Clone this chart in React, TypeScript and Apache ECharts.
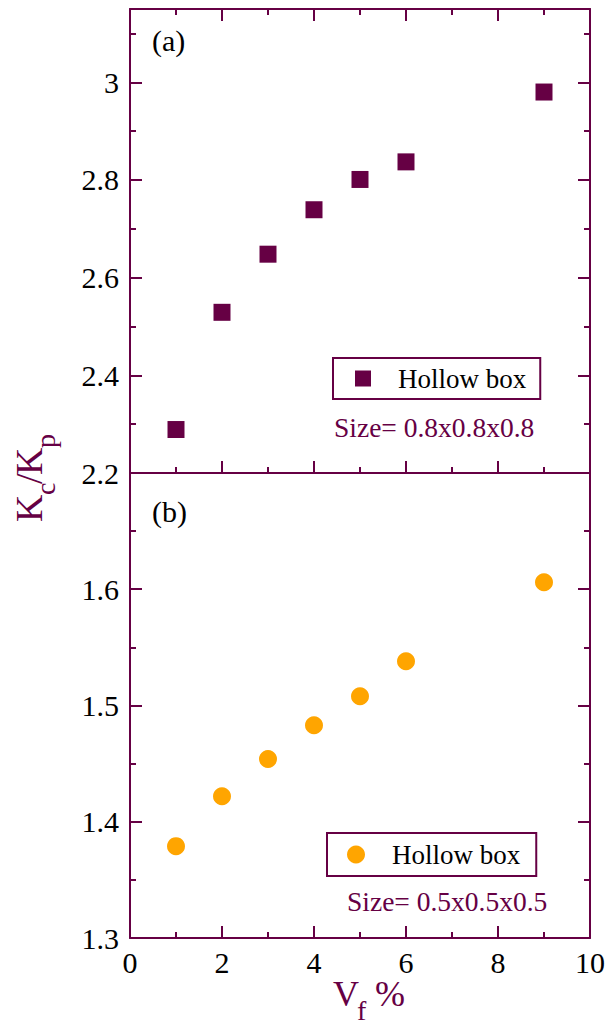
import React, { useEffect, useRef } from 'react';
import * as echarts from 'echarts';

// ---- data ----
const vfA = [1, 2, 3, 4, 5, 6, 9];
const ratioA = [2.289, 2.529, 2.648, 2.739, 2.801, 2.837, 2.98];
const vfB = [1, 2, 3, 4, 5, 6, 9];
const ratioB = [1.379, 1.422, 1.454, 1.483, 1.508, 1.538, 1.606];
const seriesNames = ['Hollow box (a)', 'Hollow box (b)'];
const legendLabel = 'Hollow box';
const sizeLabels = ['Size= 0.8x0.8x0.8', 'Size= 0.5x0.5x0.5'];
const panelLabels = ['(a)', '(b)'];

const PURPLE = '#660044';
const ORANGE = '#ffa500';
const FONT = "'Liberation Serif', 'Times New Roman', serif";

function xAx(gridIndex: number, position: string, showLabel: boolean, showTicks: boolean) {
  return {
    type: 'value',
    gridIndex,
    position,
    min: 0,
    max: 10,
    interval: 2,
    axisLine: { show: true, onZero: false, lineStyle: { color: PURPLE, width: 2 } },
    axisTick: { show: showTicks, inside: true, length: 12, lineStyle: { color: PURPLE, width: 2 } },
    minorTick: { show: showTicks, splitNumber: 2, length: 6, lineStyle: { color: PURPLE, width: 2 } },
    axisLabel: { show: showLabel, margin: 9, color: '#000', fontSize: 30, fontFamily: FONT },
    splitLine: { show: false },
    minorSplitLine: { show: false },
  };
}

function yAx(gridIndex: number, position: string, min: number, max: number, interval: number, showLabel: boolean, hideAbove: number) {
  return {
    type: 'value',
    gridIndex,
    position,
    min,
    max,
    interval,
    axisLine: { show: true, onZero: false, lineStyle: { color: PURPLE, width: 2 } },
    axisTick: { show: true, inside: true, length: 12, lineStyle: { color: PURPLE, width: 2 } },
    minorTick: { show: true, splitNumber: 2, length: 6, lineStyle: { color: PURPLE, width: 2 } },
    axisLabel: {
      show: showLabel,
      margin: 11,
      color: '#000',
      fontSize: 30,
      fontFamily: FONT,
      formatter: (v: number) => (v > hideAbove ? '' : String(Math.round(v * 10) / 10)),
    },
    splitLine: { show: false },
    minorSplitLine: { show: false },
  };
}

export default function App() {
  const ref = useRef<HTMLDivElement>(null);
  useEffect(() => {
    if (!ref.current) return;
    const chart = echarts.init(ref.current, null, { renderer: 'svg' });
    const mainFont = (s: number) => `${s}px ${FONT}`;
    chart.setOption({
      animation: false,
      backgroundColor: '#fff',
      grid: [
        { left: 130, top: 9, width: 460, height: 464, outerBoundsMode: 'none' },
        { left: 130, top: 473, width: 460, height: 465, outerBoundsMode: 'none' },
      ],
      xAxis: [
        xAx(0, 'bottom', false, true),
        xAx(0, 'top', false, true),
        xAx(1, 'bottom', true, true),
        xAx(1, 'top', false, false),
      ],
      yAxis: [
        yAx(0, 'left', 2.2, 3.15, 0.2, true, 3.05),
        yAx(0, 'right', 2.2, 3.15, 0.2, false, 3.05),
        yAx(1, 'left', 1.3, 1.7, 0.1, true, 1.65),
        yAx(1, 'right', 1.3, 1.7, 0.1, false, 1.65),
      ],
      legend: [
        {
          data: [seriesNames[0]],
          left: 333,
          top: 358,
          icon: 'rect',
          itemWidth: 16,
          itemHeight: 16,
          padding: [7, 14, 7, 22],
          borderColor: PURPLE,
          borderWidth: 2,
          borderRadius: 0,
          selectedMode: false,
          formatter: () => legendLabel,
          textStyle: { fontSize: 27, fontFamily: FONT, color: '#000', padding: [0, 0, 0, 22] },
        },
        {
          data: [seriesNames[1]],
          left: 327,
          top: 833,
          icon: 'circle',
          itemWidth: 18,
          itemHeight: 18,
          padding: [8, 16, 8, 20],
          borderColor: PURPLE,
          borderWidth: 2,
          borderRadius: 0,
          selectedMode: false,
          formatter: () => legendLabel,
          textStyle: { fontSize: 27, fontFamily: FONT, color: '#000', padding: [0, 0, 0, 22] },
        },
      ],
      series: [
        {
          name: seriesNames[0],
          type: 'scatter',
          xAxisIndex: 0,
          yAxisIndex: 0,
          symbol: 'rect',
          symbolSize: 17,
          itemStyle: { color: PURPLE, opacity: 1 },
          data: vfA.map((x, i) => [x, ratioA[i]]),
        },
        {
          name: seriesNames[1],
          type: 'scatter',
          xAxisIndex: 2,
          yAxisIndex: 2,
          symbol: 'circle',
          symbolSize: 18,
          itemStyle: { color: ORANGE, opacity: 1 },
          data: vfB.map((x, i) => [x, ratioB[i]]),
        },
      ],
      graphic: [
        { type: 'text', x: 152, y: 40, style: { text: panelLabels[0], font: mainFont(30), fill: '#000', align: 'left', verticalAlign: 'middle' } },
        { type: 'text', x: 152, y: 511, style: { text: panelLabels[1], font: mainFont(30), fill: '#000', align: 'left', verticalAlign: 'middle' } },
        { type: 'text', x: 334, y: 427, style: { text: sizeLabels[0], font: mainFont(27.5), fill: PURPLE, align: 'left', verticalAlign: 'middle' } },
        { type: 'text', x: 347, y: 901, style: { text: sizeLabels[1], font: mainFont(27.5), fill: PURPLE, align: 'left', verticalAlign: 'middle' } },
        {
          type: 'group',
          x: 28.5,
          y: 522,
          rotation: Math.PI / 2,
          children: [
            { type: 'text', x: 0, y: 0, style: { text: 'K', font: mainFont(38), fill: PURPLE, align: 'left', verticalAlign: 'middle' } },
            { type: 'text', x: 27, y: 17, style: { text: 'c', font: mainFont(28), fill: PURPLE, align: 'left', verticalAlign: 'middle' } },
            { type: 'text', x: 38, y: 0, style: { text: '/', font: mainFont(38), fill: PURPLE, align: 'left', verticalAlign: 'middle' } },
            { type: 'text', x: 47, y: 0, style: { text: 'K', font: mainFont(38), fill: PURPLE, align: 'left', verticalAlign: 'middle' } },
            { type: 'text', x: 74, y: 17, style: { text: 'p', font: mainFont(28), fill: PURPLE, align: 'left', verticalAlign: 'middle' } },
          ],
        },
        { type: 'text', x: 333, y: 994, style: { text: 'V', font: mainFont(36), fill: PURPLE, align: 'left', verticalAlign: 'middle' } },
        { type: 'text', x: 357, y: 1010, style: { text: 'f', font: mainFont(28), fill: PURPLE, align: 'left', verticalAlign: 'middle' } },
        { type: 'text', x: 375, y: 994, style: { text: '%', font: mainFont(36), fill: PURPLE, align: 'left', verticalAlign: 'middle' } },
      ],
    });
    return () => chart.dispose();
  }, []);
  return <div ref={ref} style={{ position: 'fixed', left: 0, top: 0, width: 608, height: 1026 }} />;
}
